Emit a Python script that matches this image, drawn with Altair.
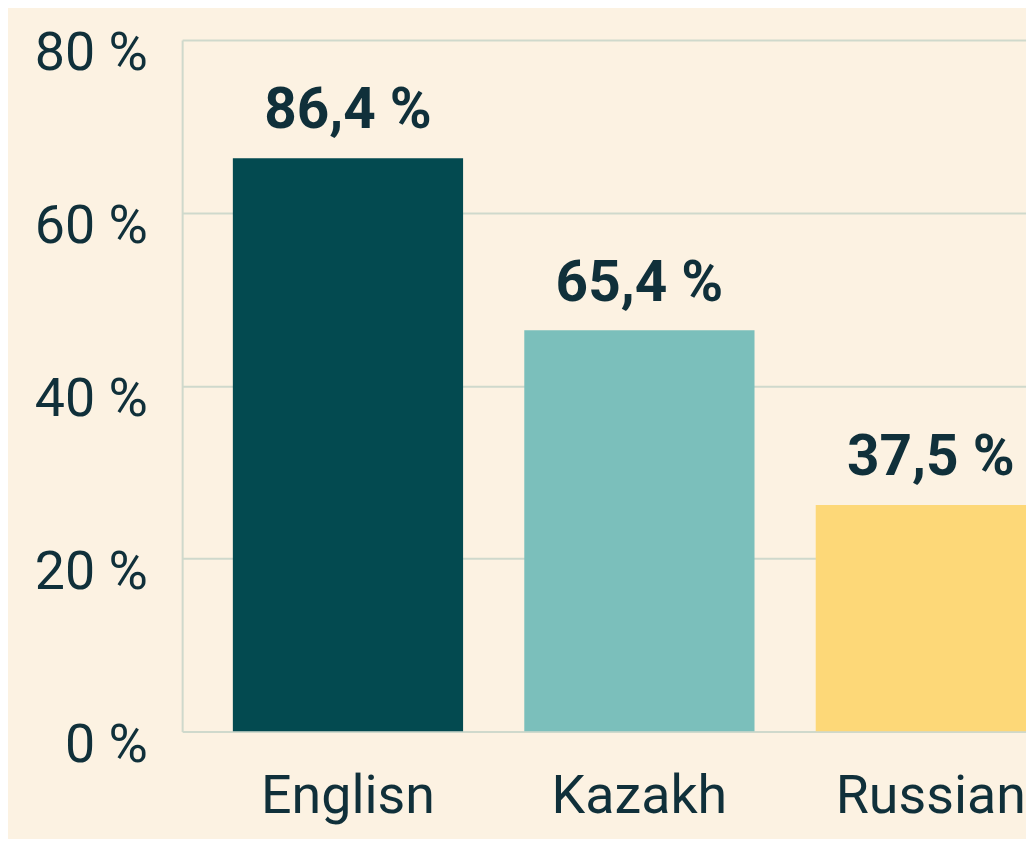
import altair as alt
import pandas as pd

languages = ["Englisn", "Kazakh", "Russian"]
bar_heights = [66.3, 46.4, 26.2]
value_labels = ["86,4 %", "65,4 %", "37,5 %"]
bar_colors = ["#034a50", "#7bbfbb", "#fdd878"]
y_ticks = [0, 20, 40, 60, 80]

df = pd.DataFrame({"lang": languages, "val": bar_heights, "label": value_labels})

TEXT = "#10303a"
GRID = "#cfd9cc"
FONT = "Roboto"

x = alt.X(
    "lang:N",
    sort=languages,
    scale=alt.Scale(range=[0, 919], paddingInner=0.21, paddingOuter=0.174),
    axis=alt.Axis(
        title=None, labelAngle=0, labelFontSize=54, labelColor=TEXT, labelFont=FONT,
        labelPadding=38, ticks=False, domain=False, grid=False, labelBaseline="top",
        labelLimit=0,
    ),
)
y = alt.Y(
    "val:Q",
    scale=alt.Scale(domain=[0, 80], nice=False),
    axis=alt.Axis(
        title=None, values=y_ticks, labelExpr="datum.value + ' %'",
        labelFontSize=54, labelColor=TEXT, labelFont=FONT, labelPadding=35,
        labelOffset=14, ticks=False, domain=True, domainColor=GRID, domainWidth=2,
        grid=True, gridColor=GRID, gridWidth=2,
    ),
)

bars = alt.Chart(df).mark_bar(clip=True).encode(
    x=x, y=y,
    color=alt.Color("lang:N", scale=alt.Scale(domain=languages, range=bar_colors), legend=None),
)
labels = alt.Chart(df).mark_text(
    fontSize=57, fontWeight="bold", font=FONT, color=TEXT, baseline="alphabetic", dy=-30,
).encode(x=x, y=y, text="label:N")

chart = (bars + labels).properties(
    width=848, height=695,
    autosize=alt.AutoSizeParams(type="none"),
    padding={"left": 175, "top": 30, "right": 0, "bottom": 106},
    background="#fcf2e2",
).configure_view(stroke=None)

chart.save("out.html", embed_options={"renderer": "svg", "actions": False})
